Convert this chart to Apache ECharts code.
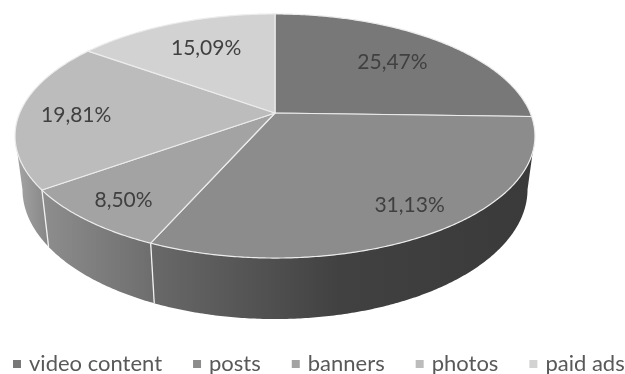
<!DOCTYPE html>
<html><head><meta charset="utf-8">
<style>html,body{margin:0;padding:0;background:#fff}#c{width:625px;height:374px}</style>
<script src="https://cdn.jsdelivr.net/npm/echarts@6/dist/echarts.min.js"></script>
</head><body><div id="c"></div>
<script>
const categories = ['video content','posts','banners','photos','paid ads'];
const shares = [25.47,31.13,8.50,19.81,15.09];
const shareLabels = ['25,47%','31,13%','8,50%','19,81%','15,09%'];

const topColors = ['#787878','#8c8c8c','#a3a3a3','#bcbcbc','#d2d2d2'];
const wallStops = [null,
  {x0:151,x1:527,stops:[[0,'#696969'],[0.5,'#414141'],[1,'#3a3a3a']]},
  {x0:41,x1:151,stops:[[0,'#8e8e8e'],[1,'#6e6e6e']]},
  {x0:15,x1:46,stops:[[0,'#a6a6a6'],[1,'#888888']]},
  null];
const labelFrac = [0.7,0.82,0.72,0.72,0.72];
const labelNudge = [[0,2],[6,-2],[-22,14],[-15,2],[6,3]];

const total = shares.reduce((a,b)=>a+b,0);
const CX=275, K=0.1885;
const TOP={B:255.3,A:117.7,Y:113}, BOTTOM={B:248,A:125,Y:165};
function project(face,deg,f){
  f = f===undefined?1:f;
  const t=deg*Math.PI/180, w=1+K*f*Math.cos(t);
  return [CX+face.B*f*Math.sin(t)/w, face.Y-face.A*f*Math.cos(t)/w];
}
function startAngle(i){ let s=0; for(let j=0;j<i;j++) s+=shares[j]; return s/total*360; }
function arc(face,a,b){ const n=Math.max(2,Math.ceil(Math.abs(b-a))*2), p=[];
  for(let i=0;i<=n;i++) p.push(project(face,a+(b-a)*i/n)); return p; }
const FRONT_A=Math.acos(-K)*180/Math.PI, FRONT_B=360-FRONT_A;

function renderSlice(params,api){
  const i=params.seriesIndex, share=api.value(0);
  const a=startAngle(i), b=a+share/total*360;
  const ch=[];
  const wa=Math.max(a,FRONT_A), wb=Math.min(b,FRONT_B);
  if(wb>wa && wallStops[i]){
    const g=wallStops[i];
    const top=arc(TOP,wa,wb), bot=arc(BOTTOM,wa,wb).reverse();
    ch.push({type:'polygon',shape:{points:top.concat(bot)},
      style:{fill:new echarts.graphic.LinearGradient(g.x0,0,g.x1,0,
        g.stops.map(s=>({offset:s[0],color:s[1]})),true),stroke:null},z2:1});
  }
  if(a>FRONT_A && a<FRONT_B){
    ch.push({type:'line',shape:{x1:project(TOP,a)[0],y1:project(TOP,a)[1],x2:project(BOTTOM,a)[0],y2:project(BOTTOM,a)[1]},
      style:{stroke:'#f2f2f2',lineWidth:1.3},z2:2});
  }
  ch.push({type:'polygon',shape:{points:[[CX,TOP.Y]].concat(arc(TOP,a,b))},
    style:{fill:topColors[i],stroke:'#ececec',lineWidth:1.2,lineJoin:'round'},z2:5});
  const mid=(a+b)/2, p=project(TOP,mid,labelFrac[i]);
  ch.push({type:'text',x:p[0]+labelNudge[i][0],y:p[1]+labelNudge[i][1],
    style:{text:shareLabels[i],fill:'#404040',font:'21px Lato',align:'center',verticalAlign:'middle'},z2:10});
  return {type:'group',children:ch};
}

const chart=echarts.init(document.getElementById('c'),null,{renderer:'canvas'});
chart.setOption({
  animation:false,
  legend:{data:categories,left:13,top:353,width:800,itemWidth:8,itemHeight:8,itemGap:31,icon:'rect',
    selectedMode:false,padding:0,
    textStyle:{fontFamily:'Lato',fontSize:22,color:'#595959',padding:[0,0,0,3]}},
  series:categories.map((name,i)=>({
    type:'custom',name,coordinateSystem:'none',silent:true,clip:false,
    itemStyle:{color:topColors[i]},
    z:i+1,
    renderItem:renderSlice,
    data:[[shares[i]]]
  }))
});
</script></body></html>
